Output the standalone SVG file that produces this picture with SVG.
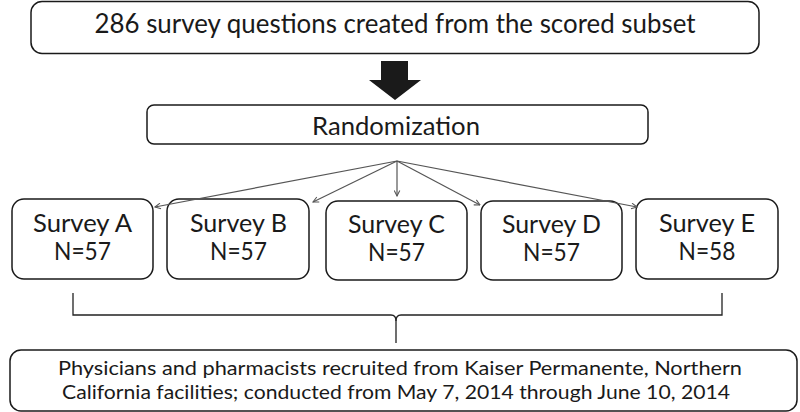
<svg xmlns="http://www.w3.org/2000/svg" width="800" height="412" viewBox="0 0 800 412">
<style>
.box{fill:#fff;stroke:#1a1a1a;stroke-width:1.5}
.t{font-family:Lato,"Open Sans","Liberation Sans",sans-serif;fill:#1a1a1a;text-anchor:middle}
.big{font-size:27px}
.mid{font-size:25px}
.sv{font-size:24.5px}
.sm{font-size:19.5px}
.conn{fill:none;stroke:#555;stroke-width:1.2}
.br{fill:none;stroke:#222;stroke-width:1.3}
</style>
<defs>
<marker id="ah" viewBox="0 0 10 10" refX="9" refY="5" markerWidth="7" markerHeight="7" markerUnits="userSpaceOnUse" orient="auto">
<path d="M1,1 L9,5 L1,9" fill="none" stroke="#555" stroke-width="1.5"/>
</marker>
</defs>
<g id="top">
<rect class="box" x="31" y="1.5" width="728" height="52" rx="11"/>
<text class="t big" x="395" y="33" textLength="601" lengthAdjust="spacingAndGlyphs">286 survey questions created from the scored subset</text>
</g>
<g id="rand">
<rect class="box" x="147" y="105" width="501" height="39" rx="7"/>
<text class="t mid" x="396" y="135" textLength="168" lengthAdjust="spacingAndGlyphs">Randomization</text>
</g>
<g id="surveyA">
<rect class="box" x="12" y="199" width="141" height="80" rx="12"/>
<text class="t sv" x="82.5" y="232" textLength="99" lengthAdjust="spacingAndGlyphs">Survey A</text>
<text class="t sv" x="82.5" y="260" textLength="57" lengthAdjust="spacingAndGlyphs">N=57</text>
</g>
<g id="surveyB">
<rect class="box" x="167" y="199" width="142" height="80" rx="12"/>
<text class="t sv" x="238.5" y="232" textLength="97" lengthAdjust="spacingAndGlyphs">Survey B</text>
<text class="t sv" x="238.5" y="260" textLength="57" lengthAdjust="spacingAndGlyphs">N=57</text>
</g>
<g id="surveyC">
<rect class="box" x="326" y="201" width="141" height="79" rx="12"/>
<text class="t sv" x="396.5" y="233" textLength="97" lengthAdjust="spacingAndGlyphs">Survey C</text>
<text class="t sv" x="396.5" y="261" textLength="57" lengthAdjust="spacingAndGlyphs">N=57</text>
</g>
<g id="surveyD">
<rect class="box" x="481" y="201" width="141" height="79" rx="12"/>
<text class="t sv" x="551.5" y="233" textLength="99" lengthAdjust="spacingAndGlyphs">Survey D</text>
<text class="t sv" x="551.5" y="261" textLength="57" lengthAdjust="spacingAndGlyphs">N=57</text>
</g>
<g id="surveyE">
<rect class="box" x="636" y="199" width="142" height="80" rx="12"/>
<text class="t sv" x="707" y="232" textLength="96" lengthAdjust="spacingAndGlyphs">Survey E</text>
<text class="t sv" x="707" y="260" textLength="57" lengthAdjust="spacingAndGlyphs">N=58</text>
</g>
<g id="bottom">
<rect class="box" x="10" y="350" width="787" height="61" rx="11"/>
<text class="t sm" x="400" y="375" textLength="684" lengthAdjust="spacingAndGlyphs">Physicians and pharmacists recruited from Kaiser Permanente, Northern</text>
<text class="t sm" x="396" y="399" textLength="668" lengthAdjust="spacingAndGlyphs">California facilities; conducted from May 7, 2014 through June 10, 2014</text>
</g>
<g id="connectors">
<polygon points="381,61 408,61 408,80 421,80 395,100 369,80 381,80" fill="#1a1a1a"/>
<line class="conn" x1="397" y1="161" x2="155" y2="207" marker-end="url(#ah)"/>
<line class="conn" x1="397" y1="161" x2="313" y2="202" marker-end="url(#ah)"/>
<line class="conn" x1="397" y1="161" x2="397" y2="196" marker-end="url(#ah)"/>
<line class="conn" x1="397" y1="161" x2="480" y2="205" marker-end="url(#ah)"/>
<line class="conn" x1="397" y1="161" x2="637" y2="207" marker-end="url(#ah)"/>
<path class="br" d="M73,293 V315 H391 Q396,315 396,321 V343"/>
<path class="br" d="M722,293 V315 H401 Q396,315 396,321"/>
</g>
</svg>
